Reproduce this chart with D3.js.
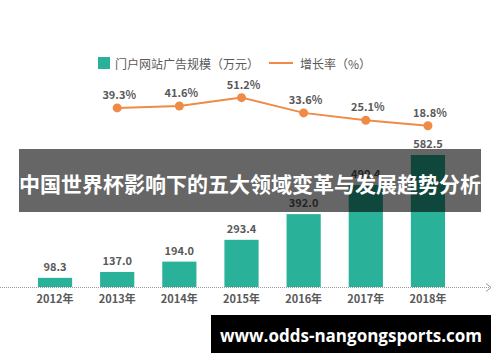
<!DOCTYPE html>
<html>
<head>
<meta charset="utf-8">
<script src="https://cdn.jsdelivr.net/npm/d3@7"></script>
<style>
    html, body { margin: 0; padding: 0; background: #fff; }
    svg { display: block; }
</style>
</head>
<body>
<div id="root"></div>
<script>
// 데이터
const years = ['2012年', '2013年', '2014年', '2015年', '2016年', '2017年', '2018年'];
const adScale = [98.3, 137.0, 194.0, 293.4, 392.0, 490.4, 582.5];
const growthYears = ['2013年', '2014年', '2015年', '2016年', '2017年', '2018年'];
const growthRate = [39.3, 41.6, 51.2, 33.6, 25.1, 18.8];
const legendLabels = ['门户网站广告规模（万元）', '增长率（%）'];
const titleText = '中国世界杯影响下的五大领域变革与发展趋势分析';
const footerText = 'www.odds-nangongsports.com';

const width = 500;
const height = 362;
const baseY = 287;  // x축 위치

const barColor = '#29b199';
const lineColor = '#ef8b46';
const textColor = '#595959';
const font = '"Noto Sans CJK SC", "Noto Sans", sans-serif';

const svg = d3.select('#root').append('svg')
    .attr('width', width)
    .attr('height', height)
    .attr('xmlns', 'http://www.w3.org/2000/svg');

// x 스케일
const x = d3.scaleBand()
    .domain(years)
    .range([10, 473])
    .paddingInner(0.45)
    .paddingOuter(0.45);

// 원본 그림이 비율대로 그려지지 않아서 pow 스케일 사용
const y = d3.scalePow()
    .exponent(1.5)
    .domain([0, d3.max(adScale)])
    .range([baseY, 155]);

// 증가율 스케일
const yRate = d3.scaleLinear()
    .domain([0, 60])
    .range([142, 90]);

// 막대
svg.append('g').selectAll('rect')
    .data(adScale)
    .join('rect')
    .attr('x', (d, i) => x(years[i]))
    .attr('y', d => y(d))
    .attr('width', x.bandwidth())
    .attr('height', d => baseY - y(d))
    .attr('fill', barColor);

// 막대 값 라벨
svg.append('g').selectAll('text')
    .data(adScale)
    .join('text')
    .attr('x', (d, i) => x(years[i]) + x.bandwidth() / 2)
    .attr('y', d => y(d) - 7)
    .attr('text-anchor', 'middle')
    .attr('font-family', font)
    .attr('font-size', 11)
    .attr('font-weight', 700)
    .attr('fill', textColor)
    .text(d => d.toFixed(1));

// x축 (점선 + 화살표)
svg.append('line')
    .attr('x1', 0).attr('x2', 490)
    .attr('y1', baseY + 0.5).attr('y2', baseY + 0.5)
    .attr('stroke', '#9a9a9a')
    .attr('stroke-width', 1)
    .attr('stroke-dasharray', '1,1');
svg.append('path')
    .attr('d', `M 486 ${baseY - 3.5} L 491 ${baseY + 0.5} L 486 ${baseY + 4.5}`)
    .attr('fill', 'none')
    .attr('stroke', '#9a9a9a')
    .attr('stroke-width', 1);

// 연도 라벨
const xAxis = svg.append('g')
    .attr('transform', `translate(0, ${baseY})`)
    .call(d3.axisBottom(x).tickSize(0).tickPadding(8));
xAxis.select('.domain').remove();
xAxis.selectAll('text')
    .attr('font-family', font)
    .attr('font-size', 11)
    .attr('font-weight', 700)
    .attr('fill', textColor);

// 증가율 라인
const cx = d => x(d) + x.bandwidth() / 2;
const line = d3.line()
    .x((d, i) => cx(growthYears[i]))
    .y(d => yRate(d));

svg.append('path')
    .datum(growthRate)
    .attr('d', line)
    .attr('fill', 'none')
    .attr('stroke', lineColor)
    .attr('stroke-width', 2);

svg.append('g').selectAll('circle')
    .data(growthRate)
    .join('circle')
    .attr('cx', (d, i) => cx(growthYears[i]))
    .attr('cy', d => yRate(d))
    .attr('r', 4.5)
    .attr('fill', lineColor);

svg.append('g').selectAll('text')
    .data(growthRate)
    .join('text')
    .attr('x', (d, i) => cx(growthYears[i]) + 2)
    .attr('y', d => yRate(d) - 9)
    .attr('text-anchor', 'middle')
    .attr('font-family', font)
    .attr('font-size', 11)
    .attr('font-weight', 700)
    .attr('fill', textColor)
    .text(d => d.toFixed(1) + '%');

// 범례
const legend = svg.append('g');
legend.append('rect')
    .attr('x', 98).attr('y', 57)
    .attr('width', 12).attr('height', 12)
    .attr('fill', barColor);
legend.append('text')
    .attr('x', 115).attr('y', 63)
    .attr('dominant-baseline', 'central')
    .attr('font-family', font)
    .attr('font-size', 12)
    .attr('fill', textColor)
    .text(legendLabels[0]);
legend.append('line')
    .attr('x1', 269).attr('x2', 293)
    .attr('y1', 63).attr('y2', 63)
    .attr('stroke', lineColor)
    .attr('stroke-width', 2);
legend.append('text')
    .attr('x', 300).attr('y', 63)
    .attr('dominant-baseline', 'central')
    .attr('font-family', font)
    .attr('font-size', 12)
    .attr('fill', textColor)
    .text(legendLabels[1]);

// 제목 배너
svg.append('rect')
    .attr('x', 19).attr('y', 149)
    .attr('width', 462).attr('height', 63)
    .attr('fill', 'rgba(0,0,0,0.6)');
svg.append('text')
    .attr('x', 250).attr('y', 183)
    .attr('text-anchor', 'middle')
    .attr('dominant-baseline', 'central')
    .attr('font-family', font)
    .attr('font-size', 21)
    .attr('font-weight', 700)
    .attr('fill', '#fff')
    .text(titleText);

// 하단 URL
svg.append('rect')
    .attr('x', 211).attr('y', 315)
    .attr('width', 280).attr('height', 38)
    .attr('fill', '#000');
svg.append('text')
    .attr('x', 351).attr('y', 335)
    .attr('text-anchor', 'middle')
    .attr('dominant-baseline', 'central')
    .attr('font-family', '"Open Sans", sans-serif')
    .attr('font-size', 17)
    .attr('font-weight', 700)
    .attr('fill', '#fff')
    .text(footerText);
</script>
</body>
</html>
